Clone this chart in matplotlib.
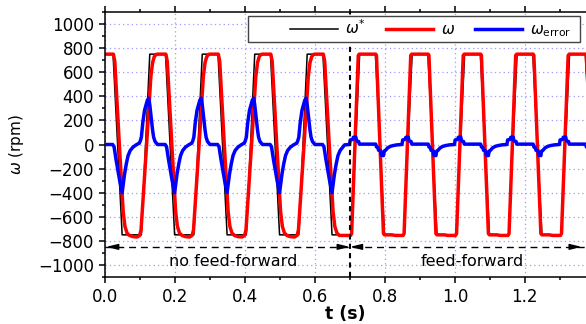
import numpy as np
import matplotlib
matplotlib.use('Agg')
import matplotlib.pyplot as plt
from matplotlib.patches import Rectangle
from matplotlib.ticker import MultipleLocator

# ---- data (time in s, speed in rpm) ----
# reference speed omega*, one 0.15 s cycle (time offset inside the cycle)
ref_t = [0.0, 0.023, 0.049, 0.104, 0.128]
ref_w = [750, 750, -750, -750, 750]
ref_starts = [0.0, 0.15, 0.30, 0.45, 0.60, 0.75, 0.90, 1.05, 1.20, 1.35]

# measured speed omega, without feed-forward (falling half / rising half)
w_nff_fall_t = [0.000, 0.024, 0.028, 0.041, 0.052, 0.057, 0.063, 0.070]
w_nff_fall_v = [750, 750, 690, 0, -560, -680, -735, -755]
w_nff_rise_t = [0.080, 0.092, 0.099, 0.103, 0.119, 0.131, 0.136, 0.141, 0.146]
w_nff_rise_v = [-765, -768, -755, -710, 0, 560, 680, 730, 748]
# measured speed omega, with feed-forward
w_ff_fall_t = [0.000, 0.024, 0.026, 0.046, 0.049, 0.070]
w_ff_fall_v = [750, 750, 740, -740, -750, -750]
w_ff_rise_t = [0.080, 0.102, 0.105, 0.124, 0.127, 0.146]
w_ff_rise_v = [-755, -755, -740, 740, 750, 750]

# speed error, without feed-forward
e_nff_fall_t = [0.000, 0.022, 0.026, 0.032, 0.042, 0.049, 0.056, 0.061, 0.066, 0.072]
e_nff_fall_v = [0, 0, -20, -133, -300, -400, -244, -160, -92, -50]
e_nff_rise_t = [0.080, 0.088, 0.094, 0.098, 0.101, 0.104, 0.108, 0.113, 0.121,
                0.125, 0.128, 0.132, 0.136, 0.139, 0.143, 0.147]
e_nff_rise_v = [-22, -5, 5, 10, 30, 61, 180, 283, 367, 385, 330, 228, 120, 61, 25, 11]
# speed error, with feed-forward
e_ff_fall_t = [0.000, 0.024, 0.026, 0.030, 0.032, 0.038, 0.040, 0.046, 0.048,
               0.052, 0.058, 0.066, 0.075]
e_ff_fall_v = [3, 3, -20, -25, -48, -52, -90, -92, -55, -48, -28, -15, -8]
e_ff_rise_t = [0.085, 0.099, 0.101, 0.108, 0.110, 0.117, 0.119, 0.125, 0.127, 0.146]
e_ff_rise_v = [-3, 0, 38, 42, 60, 62, 30, 25, 3, 3]

nff_fall_starts = [0.0, 0.15, 0.30, 0.45, 0.60]
nff_rise_starts = [0.0, 0.15, 0.30, 0.45]
ff_rise_starts = [0.60, 0.75, 0.90, 1.05, 1.20]
ff_fall_starts = [0.75, 0.90, 1.05, 1.20, 1.35]

switch_t = 0.7
arrow_y = -850


def build(pieces):
    ts, vs = [], []
    for starts, tt, vv in pieces:
        for s in starts:
            ts.extend(s + np.array(tt))
            vs.extend(vv)
    order = np.argsort(ts, kind='stable')
    return np.array(ts)[order], np.array(vs)[order]


t_ref, w_ref = build([(ref_starts, ref_t, ref_w)])
t_w, w_meas = build([(nff_fall_starts, w_nff_fall_t, w_nff_fall_v),
                     (nff_rise_starts, w_nff_rise_t, w_nff_rise_v),
                     (ff_rise_starts, w_ff_rise_t, w_ff_rise_v),
                     (ff_fall_starts, w_ff_fall_t, w_ff_fall_v)])
t_e, w_err = build([(nff_fall_starts, e_nff_fall_t, e_nff_fall_v),
                    (nff_rise_starts, e_nff_rise_t, e_nff_rise_v),
                    (ff_rise_starts, e_ff_rise_t, e_ff_rise_v),
                    (ff_fall_starts, e_ff_fall_t, e_ff_fall_v)])

plt.rcParams['font.family'] = 'DejaVu Sans'
plt.rcParams['font.size'] = 11

fig = plt.figure(figsize=(5.86, 3.24), dpi=100)
ax = fig.add_axes([105/586, 47/324, 481/586, 265/324])

l1, = ax.plot(t_ref, w_ref, color='black', lw=1.1, zorder=2, label=r'$\omega^{*}$')
l2, = ax.plot(t_w, w_meas, color='#ff0000', lw=2.5, zorder=2.5, label=r'$\omega$')
l3, = ax.plot(t_e, w_err, color='#0000ff', lw=2.5, zorder=2.6,
              label=r'$\omega_{\mathrm{error}}$')

ax.set_xlim(0, 1.375)
ax.set_ylim(-1100, 1100)

# dashed separators
ax.axvline(switch_t, color='black', lw=1.5, dashes=(2.5, 2), zorder=3)
ax.plot([0, 1.375], [arrow_y, arrow_y], color='black', lw=1.0, dashes=(5, 3.5), zorder=3)
head = dict(arrowstyle='-|>,head_length=0.7,head_width=0.17', color='black', lw=1.0,
            shrinkA=0, shrinkB=0, mutation_scale=10)
for tip, tail in [(0.003, 0.03), (switch_t, switch_t - 0.03),
                  (switch_t, switch_t + 0.03), (1.363, 1.333)]:
    ax.annotate('', xy=(tip, arrow_y), xytext=(tail, arrow_y), arrowprops=head, zorder=3)

ax.text(0.367, -1005, 'no feed-forward', ha='center', va='baseline', fontsize=11.5)
ax.text(1.051, -1005, 'feed-forward', ha='center', va='baseline', fontsize=11.5)

# grid, ticks, spines
ax.xaxis.set_major_locator(MultipleLocator(0.2))
ax.xaxis.set_minor_locator(MultipleLocator(0.1))
ax.yaxis.set_major_locator(MultipleLocator(200))
ax.yaxis.set_minor_locator(MultipleLocator(100))
ax.xaxis.set_major_formatter(matplotlib.ticker.FormatStrFormatter('%.1f'))
ax.grid(True, which='major', color='#9a9aff', linestyle=(0, (1, 2.5)), lw=0.9)
ax.set_axisbelow(True)
ax.tick_params(which='both', direction='out', top=True, right=False, width=1.1)
ax.tick_params(which='major', length=4.5, labelsize=12)
ax.tick_params(which='minor', length=2.5)
ax.spines['right'].set_visible(False)
for s in ['left', 'bottom', 'top']:
    ax.spines[s].set_linewidth(1.1)

ax.set_xlabel('t (s)', fontsize=12.5, fontweight='bold')
ax.xaxis.set_label_coords(0.5, -0.105)
ax.set_ylabel(r'$\omega$ (rpm)', fontsize=11)
ax.yaxis.set_label_coords(-0.165, 0.5)

# legend with a square box
ax.add_patch(Rectangle((0.297, 0.888), 0.690, 0.098, transform=ax.transAxes,
                       facecolor='white', edgecolor='#444444', lw=1.0, zorder=4))
leg = ax.legend(handles=[l1, l2, l3], loc='center left', bbox_to_anchor=(0.385, 0.937),
                ncol=3, frameon=False, handlelength=3.1, handletextpad=0.5,
                columnspacing=1.3, borderpad=0, borderaxespad=0, fontsize=11)
leg.set_zorder(5)

fig.savefig('out.png', dpi=100)
